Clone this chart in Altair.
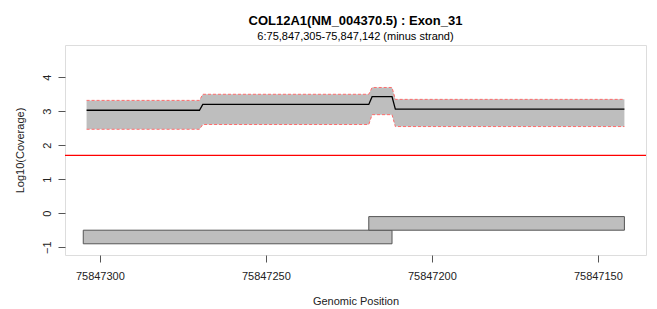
import altair as alt
import pandas as pd

# coverage profile (breakpoints), log10 scale
pos = [75847304, 75847270, 75847269, 75847219, 75847218, 75847212, 75847211, 75847142]
mean_cov = [3.03, 3.03, 3.20, 3.20, 3.43, 3.43, 3.06, 3.06]
upper_cov = [3.32, 3.32, 3.50, 3.50, 3.70, 3.70, 3.35, 3.35]
lower_cov = [2.47, 2.47, 2.61, 2.61, 2.90, 2.90, 2.55, 2.55]

# threshold line log10(50)
threshold = [1.699]

# exon/segment rectangles
rect_start = [75847305, 75847219]
rect_end = [75847212, 75847142]
rect_bottom = [-0.9, -0.5]
rect_top = [-0.5, -0.1]

x_ticks = [75847300, 75847250, 75847200, 75847150]
y_ticks = [-1, 0, 1, 2, 3, 4]

cov = pd.DataFrame({"pos": pos, "mean": mean_cov, "upper": upper_cov, "lower": lower_cov,
                    "i": list(range(len(pos)))})
rects = pd.DataFrame({"s": rect_start, "e": rect_end, "b": rect_bottom, "t": rect_top})
thr = pd.DataFrame({"v": threshold})

FONT = "Liberation Sans"

xscale = alt.Scale(domain=[75847135.5, 75847310.5], reverse=True, nice=False, zero=False)
yscale = alt.Scale(domain=[-1.23, 4.95], nice=False, zero=False)

xaxis = alt.Axis(values=x_ticks, format="d", title="Genomic Position", grid=False, domain=False,
                 tickSize=7, tickColor="#555555", labelFontSize=11, labelColor="#222222",
                 labelFont=FONT, labelPadding=8, titleFont=FONT, titleFontSize=11,
                 titleFontWeight="normal", titleColor="#222222", titlePadding=14, labelFlush=False)
yaxis = alt.Axis(values=y_ticks, title="Log10(Coverage)", grid=False, domain=False,
                 tickSize=7, tickColor="#555555", labelFontSize=11, labelColor="#222222",
                 labelFont=FONT, labelAngle=-90, labelAlign="center", labelBaseline="bottom",
                 labelPadding=6, titleFont=FONT, titleFontSize=11, titleFontWeight="normal",
                 titleColor="#222222", titleX=-40, titleY=105, titleAngle=-90,
                 titleAlign="center", titleBaseline="bottom", labelFlush=False)

base = alt.Chart(cov)

band = base.mark_area(color="#BEBEBE", opacity=1, orient="vertical").encode(
    x=alt.X("pos:Q", scale=xscale, axis=xaxis),
    y=alt.Y("lower:Q", scale=yscale, axis=yaxis),
    y2=alt.Y2("upper:Q"),
)
up_line = base.mark_line(color="#FF6B6B", strokeWidth=1, strokeDash=[3, 2]).encode(
    x=alt.X("pos:Q", scale=xscale), y=alt.Y("upper:Q", scale=yscale), order="i:Q")
lo_line = base.mark_line(color="#FF6B6B", strokeWidth=1, strokeDash=[3, 2]).encode(
    x=alt.X("pos:Q", scale=xscale), y=alt.Y("lower:Q", scale=yscale), order="i:Q")
mean_line = base.mark_line(color="#000000", strokeWidth=1.3).encode(
    x=alt.X("pos:Q", scale=xscale), y=alt.Y("mean:Q", scale=yscale), order="i:Q")

thr_rule = alt.Chart(thr).mark_rule(color="#FF0000", strokeWidth=1.2).encode(
    y=alt.Y("v:Q", scale=yscale))

rect_marks = alt.Chart(rects).mark_rect(fill="#BEBEBE", stroke="#555555", strokeWidth=1).encode(
    x=alt.X("s:Q", scale=xscale), x2="e:Q",
    y=alt.Y("b:Q", scale=yscale), y2="t:Q")

chart = alt.layer(band, up_line, lo_line, mean_line, thr_rule, rect_marks).properties(
    width=581, height=210,
    autosize=alt.AutoSizeParams(type="none"),
    padding={"left": 57, "top": 37, "right": 3, "bottom": 54},
    title=alt.Title(text="COL12A1(NM_004370.5) : Exon_31",
                    subtitle="6:75,847,305-75,847,142 (minus strand)",
                    font=FONT, fontSize=13, fontWeight="bold", color="#000000",
                    subtitleFont=FONT, subtitleFontSize=11, subtitleColor="#000000",
                    subtitlePadding=3, offset=3, anchor="middle"),
).configure_view(stroke="#8a8a8a", strokeWidth=1.2).configure(background="white")

chart.save("out.html", embed_options={"renderer": "svg", "actions": False})
